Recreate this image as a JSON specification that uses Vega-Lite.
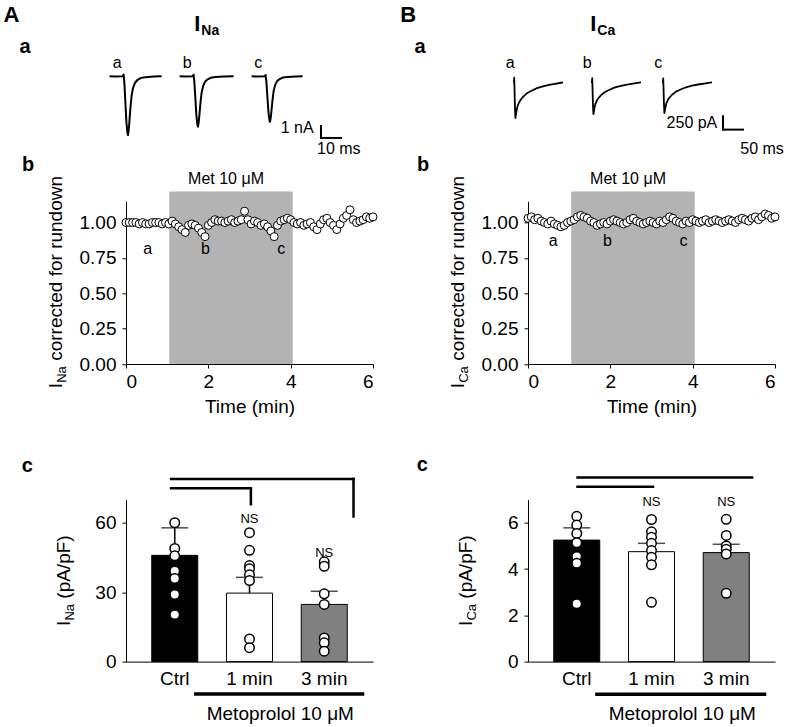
{
  "$schema": "https://vega.github.io/schema/vega-lite/v6.json",
  "padding": {"left": 3, "top": 3, "right": 5, "bottom": 5},
  "bounds": "flush",
  "columns": 2,
  "spacing": {"row": 135.3, "column": 155},
  "datasets": {
    "naTraces": [
      {"sweep":"a","t":0,"current":0},{"sweep":"a","t":3,"current":-0.02},{"sweep":"a","t":6.6,"current":0},{"sweep":"a","t":7.0,"current":0.15},{"sweep":"a","t":7.4,"current":-0.59},{"sweep":"a","t":7.9,"current":-2.2},{"sweep":"a","t":8.4,"current":-3.82},{"sweep":"a","t":8.9,"current":-4.7},{"sweep":"a","t":9.2,"current":-4.9},{"sweep":"a","t":9.6,"current":-4.41},{"sweep":"a","t":10.0,"current":-3.53},{"sweep":"a","t":10.5,"current":-2.45},{"sweep":"a","t":11.0,"current":-1.62},{"sweep":"a","t":11.7,"current":-0.98},{"sweep":"a","t":12.7,"current":-0.54},{"sweep":"a","t":14,"current":-0.29},{"sweep":"a","t":15.5,"current":-0.15},{"sweep":"a","t":18,"current":-0.07},{"sweep":"a","t":22,"current":-0.02},{"sweep":"a","t":26,"current":0},
      {"sweep":"b","t":35,"current":0},{"sweep":"b","t":38,"current":-0.02},{"sweep":"b","t":41.6,"current":0},{"sweep":"b","t":42.0,"current":0.13},{"sweep":"b","t":42.4,"current":-0.5},{"sweep":"b","t":42.9,"current":-1.89},{"sweep":"b","t":43.4,"current":-3.28},{"sweep":"b","t":43.9,"current":-4.03},{"sweep":"b","t":44.2,"current":-4.2},{"sweep":"b","t":44.6,"current":-3.78},{"sweep":"b","t":45.0,"current":-3.02},{"sweep":"b","t":45.5,"current":-2.1},{"sweep":"b","t":46.0,"current":-1.39},{"sweep":"b","t":46.7,"current":-0.84},{"sweep":"b","t":47.7,"current":-0.46},{"sweep":"b","t":49,"current":-0.25},{"sweep":"b","t":50.5,"current":-0.13},{"sweep":"b","t":53,"current":-0.06},{"sweep":"b","t":57,"current":-0.02},{"sweep":"b","t":62,"current":0},
      {"sweep":"c","t":71,"current":0},{"sweep":"c","t":74,"current":-0.02},{"sweep":"c","t":77.6,"current":0},{"sweep":"c","t":78.0,"current":0.11},{"sweep":"c","t":78.4,"current":-0.46},{"sweep":"c","t":78.9,"current":-1.71},{"sweep":"c","t":79.4,"current":-2.96},{"sweep":"c","t":79.9,"current":-3.65},{"sweep":"c","t":80.2,"current":-3.8},{"sweep":"c","t":80.6,"current":-3.42},{"sweep":"c","t":81.0,"current":-2.74},{"sweep":"c","t":81.5,"current":-1.9},{"sweep":"c","t":82.0,"current":-1.25},{"sweep":"c","t":82.7,"current":-0.76},{"sweep":"c","t":83.7,"current":-0.42},{"sweep":"c","t":85,"current":-0.23},{"sweep":"c","t":86.5,"current":-0.11},{"sweep":"c","t":89,"current":-0.06},{"sweep":"c","t":93,"current":-0.02},{"sweep":"c","t":96.5,"current":0}
    ],
    "caTraces": [
      {"sweep":"a","t":0,"current":0},{"sweep":"a","t":2.5,"current":0},{"sweep":"a","t":3,"current":81},{"sweep":"a","t":3.5,"current":-41},{"sweep":"a","t":5,"current":-508},{"sweep":"a","t":6,"current":-677},{"sweep":"a","t":8,"current":-575},{"sweep":"a","t":11,"current":-460},{"sweep":"a","t":15,"current":-386},{"sweep":"a","t":19,"current":-339},{"sweep":"a","t":25,"current":-278},{"sweep":"a","t":35,"current":-210},{"sweep":"a","t":45,"current":-169},{"sweep":"a","t":60,"current":-115},{"sweep":"a","t":75,"current":-81},{"sweep":"a","t":90,"current":-54},{"sweep":"a","t":105,"current":-34},{"sweep":"a","t":120,"current":-14},{"sweep":"a","t":125,"current":-7},
      {"sweep":"b","t":195,"current":0},{"sweep":"b","t":197.5,"current":0},{"sweep":"b","t":198,"current":72},{"sweep":"b","t":198.5,"current":-36},{"sweep":"b","t":200,"current":-452},{"sweep":"b","t":201,"current":-602},{"sweep":"b","t":203,"current":-512},{"sweep":"b","t":206,"current":-409},{"sweep":"b","t":210,"current":-343},{"sweep":"b","t":214,"current":-301},{"sweep":"b","t":220,"current":-247},{"sweep":"b","t":230,"current":-187},{"sweep":"b","t":240,"current":-151},{"sweep":"b","t":255,"current":-102},{"sweep":"b","t":270,"current":-72},{"sweep":"b","t":285,"current":-48},{"sweep":"b","t":300,"current":-30},{"sweep":"b","t":315,"current":-12},{"sweep":"b","t":320,"current":-6},
      {"sweep":"c","t":372.5,"current":0},{"sweep":"c","t":375,"current":0},{"sweep":"c","t":375.5,"current":70},{"sweep":"c","t":376,"current":-35},{"sweep":"c","t":377.5,"current":-437},{"sweep":"c","t":378.5,"current":-583},{"sweep":"c","t":380.5,"current":-496},{"sweep":"c","t":383.5,"current":-396},{"sweep":"c","t":387.5,"current":-332},{"sweep":"c","t":391.5,"current":-292},{"sweep":"c","t":397.5,"current":-239},{"sweep":"c","t":407.5,"current":-181},{"sweep":"c","t":417.5,"current":-146},{"sweep":"c","t":432.5,"current":-99},{"sweep":"c","t":447.5,"current":-70},{"sweep":"c","t":462.5,"current":-47},{"sweep":"c","t":477.5,"current":-29},{"sweep":"c","t":492.5,"current":-12},{"sweep":"c","t":497.5,"current":-6}
    ],
    "naTime": [
      {"time":0.00,"ratio":1.00},{"time":0.08,"ratio":1.00},{"time":0.16,"ratio":1.00},{"time":0.24,"ratio":1.00},{"time":0.32,"ratio":0.99},{"time":0.40,"ratio":1.00},{"time":0.48,"ratio":0.99},{"time":0.56,"ratio":0.99},{"time":0.64,"ratio":1.00},{"time":0.72,"ratio":1.00},{"time":0.80,"ratio":1.00},{"time":0.88,"ratio":0.99},{"time":0.96,"ratio":1.00},{"time":1.04,"ratio":0.99},{"time":1.12,"ratio":1.01},{"time":1.20,"ratio":0.99},{"time":1.28,"ratio":0.97},{"time":1.36,"ratio":0.95},{"time":1.44,"ratio":0.93},{"time":1.52,"ratio":0.98},{"time":1.60,"ratio":0.99},{"time":1.68,"ratio":0.98},{"time":1.76,"ratio":0.96},{"time":1.84,"ratio":0.93},{"time":1.92,"ratio":0.90},{"time":2.00,"ratio":0.98},{"time":2.08,"ratio":1.00},{"time":2.16,"ratio":1.02},{"time":2.24,"ratio":1.01},{"time":2.32,"ratio":1.01},{"time":2.40,"ratio":1.00},{"time":2.48,"ratio":1.01},{"time":2.56,"ratio":1.02},{"time":2.64,"ratio":1.00},{"time":2.72,"ratio":1.01},{"time":2.80,"ratio":1.02},{"time":2.88,"ratio":1.08},{"time":2.96,"ratio":1.02},{"time":3.04,"ratio":0.99},{"time":3.12,"ratio":1.01},{"time":3.20,"ratio":1.00},{"time":3.28,"ratio":0.98},{"time":3.36,"ratio":0.99},{"time":3.44,"ratio":0.97},{"time":3.52,"ratio":0.94},{"time":3.60,"ratio":0.90},{"time":3.68,"ratio":0.98},{"time":3.76,"ratio":1.01},{"time":3.84,"ratio":1.02},{"time":3.92,"ratio":1.03},{"time":4.00,"ratio":1.02},{"time":4.08,"ratio":1.00},{"time":4.16,"ratio":0.99},{"time":4.24,"ratio":1.00},{"time":4.32,"ratio":0.98},{"time":4.40,"ratio":0.99},{"time":4.48,"ratio":1.00},{"time":4.56,"ratio":0.97},{"time":4.64,"ratio":0.95},{"time":4.72,"ratio":0.99},{"time":4.80,"ratio":1.02},{"time":4.88,"ratio":1.03},{"time":4.96,"ratio":1.00},{"time":5.04,"ratio":0.98},{"time":5.12,"ratio":0.95},{"time":5.20,"ratio":0.99},{"time":5.28,"ratio":1.03},{"time":5.36,"ratio":1.05},{"time":5.44,"ratio":1.09},{"time":5.52,"ratio":1.02},{"time":5.60,"ratio":1.00},{"time":5.68,"ratio":1.01},{"time":5.76,"ratio":1.02},{"time":5.84,"ratio":1.04},{"time":5.92,"ratio":1.03},{"time":6.00,"ratio":1.04}
    ],
    "caTime": [
      {"time":0.00,"ratio":1.03},{"time":0.08,"ratio":1.04},{"time":0.16,"ratio":1.02},{"time":0.24,"ratio":1.03},{"time":0.32,"ratio":1.01},{"time":0.40,"ratio":1.00},{"time":0.48,"ratio":0.99},{"time":0.56,"ratio":1.01},{"time":0.64,"ratio":0.99},{"time":0.72,"ratio":0.98},{"time":0.80,"ratio":0.97},{"time":0.88,"ratio":0.98},{"time":0.96,"ratio":1.00},{"time":1.04,"ratio":1.01},{"time":1.12,"ratio":1.02},{"time":1.20,"ratio":1.04},{"time":1.28,"ratio":1.05},{"time":1.36,"ratio":1.04},{"time":1.44,"ratio":1.03},{"time":1.52,"ratio":1.01},{"time":1.60,"ratio":1.00},{"time":1.68,"ratio":0.98},{"time":1.76,"ratio":0.99},{"time":1.84,"ratio":1.00},{"time":1.92,"ratio":0.99},{"time":2.00,"ratio":1.01},{"time":2.08,"ratio":1.02},{"time":2.16,"ratio":1.01},{"time":2.24,"ratio":1.00},{"time":2.32,"ratio":0.99},{"time":2.40,"ratio":1.00},{"time":2.48,"ratio":1.02},{"time":2.56,"ratio":1.03},{"time":2.64,"ratio":1.01},{"time":2.72,"ratio":1.00},{"time":2.80,"ratio":0.99},{"time":2.88,"ratio":1.00},{"time":2.96,"ratio":1.01},{"time":3.04,"ratio":1.00},{"time":3.12,"ratio":0.99},{"time":3.20,"ratio":1.01},{"time":3.28,"ratio":1.00},{"time":3.36,"ratio":1.02},{"time":3.44,"ratio":1.04},{"time":3.52,"ratio":1.03},{"time":3.60,"ratio":1.01},{"time":3.68,"ratio":1.00},{"time":3.76,"ratio":0.99},{"time":3.84,"ratio":1.01},{"time":3.92,"ratio":1.00},{"time":4.00,"ratio":1.02},{"time":4.08,"ratio":1.01},{"time":4.16,"ratio":1.00},{"time":4.24,"ratio":1.01},{"time":4.32,"ratio":1.02},{"time":4.40,"ratio":1.00},{"time":4.48,"ratio":1.01},{"time":4.56,"ratio":1.02},{"time":4.64,"ratio":1.01},{"time":4.72,"ratio":1.00},{"time":4.80,"ratio":1.01},{"time":4.88,"ratio":1.02},{"time":4.96,"ratio":1.01},{"time":5.04,"ratio":1.00},{"time":5.12,"ratio":1.02},{"time":5.20,"ratio":1.03},{"time":5.28,"ratio":1.02},{"time":5.36,"ratio":1.01},{"time":5.44,"ratio":1.03},{"time":5.52,"ratio":1.04},{"time":5.60,"ratio":1.02},{"time":5.68,"ratio":1.04},{"time":5.76,"ratio":1.06},{"time":5.84,"ratio":1.05},{"time":5.92,"ratio":1.03},{"time":6.00,"ratio":1.04}
    ],
    "naLabels": [{"label":"a","time":0.525},{"label":"b","time":1.93},{"label":"c","time":3.77}],
    "caLabels": [{"label":"a","time":0.61},{"label":"b","time":1.93},{"label":"c","time":3.78}],
    "naBars": [{"cond":"Ctrl","mean":45.9,"upper":57.8},{"cond":"1 min","mean":29.6,"upper":36.4},{"cond":"3 min","mean":24.7,"upper":30.4}],
    "naPoints": [
      {"cond":"Ctrl","value":60.0},{"cond":"Ctrl","value":48.9},{"cond":"Ctrl","value":45.7},{"cond":"Ctrl","value":39.1},{"cond":"Ctrl","value":35.9},{"cond":"Ctrl","value":29.0},{"cond":"Ctrl","value":20.3},
      {"cond":"1 min","value":55.7},{"cond":"1 min","value":48.1},{"cond":"1 min","value":41.5},{"cond":"1 min","value":40.1},{"cond":"1 min","value":37.5},{"cond":"1 min","value":35.0},{"cond":"1 min","value":9.8},{"cond":"1 min","value":6.0},
      {"cond":"3 min","value":43.1},{"cond":"3 min","value":41.2},{"cond":"3 min","value":29.3},{"cond":"3 min","value":24.7},{"cond":"3 min","value":10.2},{"cond":"3 min","value":8.1},{"cond":"3 min","value":4.5}
    ],
    "caBars": [{"cond":"Ctrl","mean":5.25,"upper":5.78},{"cond":"1 min","mean":4.75,"upper":5.11},{"cond":"3 min","mean":4.71,"upper":5.07}],
    "caPoints": [
      {"cond":"Ctrl","value":6.28},{"cond":"Ctrl","value":5.9},{"cond":"Ctrl","value":5.54},{"cond":"Ctrl","value":5.14},{"cond":"Ctrl","value":4.54},{"cond":"Ctrl","value":4.25},{"cond":"Ctrl","value":2.5},
      {"cond":"1 min","value":6.14},{"cond":"1 min","value":5.61},{"cond":"1 min","value":5.37},{"cond":"1 min","value":5.11},{"cond":"1 min","value":4.8},{"cond":"1 min","value":4.51},{"cond":"1 min","value":4.18},{"cond":"1 min","value":2.56},
      {"cond":"3 min","value":6.15},{"cond":"3 min","value":5.45},{"cond":"3 min","value":5.0},{"cond":"3 min","value":4.85},{"cond":"3 min","value":4.65},{"cond":"3 min","value":2.95}
    ]
  },
  "concat": [
    {
      "width": 247, "height": 20,
      "layer": [
        {"data": {"name": "naTraces"}, "mark": {"type": "line", "color": "black", "strokeWidth": 2, "strokeJoin": "round"},
         "encoding": {"x": {"field": "t", "type": "quantitative", "scale": {"domain": [8.2, 131.7], "nice": false, "zero": false}, "axis": null},
                      "y": {"field": "current", "type": "quantitative", "scale": {"domain": [0.858, 2.525], "nice": false, "zero": false}, "axis": null},
                      "detail": {"field": "sweep", "type": "nominal"}}},
        {"data": {"values": [{}]}, "mark": {"type": "rule", "color": "black", "strokeWidth": 2, "strokeCap": "square"},
         "encoding": {"x": {"datum": 105.7, "axis": null}, "y": {"datum": -5.14, "axis": null}, "y2": {"datum": -4.14}}},
        {"data": {"values": [{}]}, "mark": {"type": "rule", "color": "black", "strokeWidth": 2, "strokeCap": "square"},
         "encoding": {"x": {"datum": 105.7, "axis": null}, "x2": {"datum": 115.7}, "y": {"datum": -5.14, "axis": null}}},
        {"data": {"values": [{}]}, "mark": {"type": "text", "text": "1 nA", "fontSize": 16, "align": "right", "baseline": "middle"},
         "encoding": {"x": {"datum": 102, "axis": null}, "y": {"datum": -4.3, "axis": null}}},
        {"data": {"values": [{}]}, "mark": {"type": "text", "text": "10 ms", "fontSize": 16, "align": "left", "baseline": "middle"},
         "encoding": {"x": {"datum": 103.7, "axis": null}, "y": {"datum": -6.03, "axis": null}}},
        {"data": {"values": [{"sweep": "a", "t": 3.85}, {"sweep": "b", "t": 38.85}, {"sweep": "c", "t": 74.35}]}, "mark": {"type": "text", "fontSize": 16, "baseline": "middle"},
         "encoding": {"x": {"field": "t", "type": "quantitative", "axis": null}, "y": {"datum": 1.083, "axis": null}, "text": {"field": "sweep"}}},
        {"data": {"values": [{}]}, "mark": {"type": "text", "text": "A", "fontSize": 22, "fontWeight": "bold", "align": "left", "baseline": "alphabetic"},
         "encoding": {"x": {"datum": -53.0, "axis": null}, "y": {"datum": 4.525, "axis": null}}},
        {"data": {"values": [{}]}, "mark": {"type": "text", "text": "I", "fontSize": 22, "fontWeight": "bold", "align": "left", "baseline": "alphabetic"},
         "encoding": {"x": {"datum": 42.35, "axis": null}, "y": {"datum": 3.75, "axis": null}}},
        {"data": {"values": [{}]}, "mark": {"type": "text", "text": "Na", "fontSize": 14, "fontWeight": "bold", "align": "left", "baseline": "alphabetic"},
         "encoding": {"x": {"datum": 45.85, "axis": null}, "y": {"datum": 3.475, "axis": null}}},
        {"data": {"values": [{}]}, "mark": {"type": "text", "text": "a", "fontSize": 20, "fontWeight": "bold", "align": "left", "baseline": "alphabetic"},
         "encoding": {"x": {"datum": -45.0, "axis": null}, "y": {"datum": 1.917, "axis": null}}}
      ]
    },
    {
      "width": 247, "height": 20,
      "layer": [
        {"data": {"name": "caTraces"}, "mark": {"type": "line", "color": "black", "strokeWidth": 1.8, "strokeJoin": "round"},
         "encoding": {"x": {"field": "t", "type": "quantitative", "scale": {"domain": [37.5, 655], "nice": false, "zero": false}, "axis": null},
                      "y": {"field": "current", "type": "quantitative", "scale": {"domain": [300.8, 676.7], "nice": false, "zero": false}, "axis": null},
                      "detail": {"field": "sweep", "type": "nominal"}}},
        {"data": {"values": [{}]}, "mark": {"type": "rule", "color": "black", "strokeWidth": 2, "strokeCap": "square"},
         "encoding": {"x": {"datum": 525, "axis": null}, "y": {"datum": -895, "axis": null}, "y2": {"datum": -645}}},
        {"data": {"values": [{}]}, "mark": {"type": "rule", "color": "black", "strokeWidth": 2, "strokeCap": "square"},
         "encoding": {"x": {"datum": 525, "axis": null}, "x2": {"datum": 575}, "y": {"datum": -895, "axis": null}}},
        {"data": {"values": [{}]}, "mark": {"type": "text", "text": "250 pA", "fontSize": 16, "align": "right", "baseline": "middle"},
         "encoding": {"x": {"datum": 510.75, "axis": null}, "y": {"datum": -770.7, "axis": null}}},
        {"data": {"values": [{}]}, "mark": {"type": "text", "text": "50 ms", "fontSize": 16, "align": "left", "baseline": "middle"},
         "encoding": {"x": {"datum": 568.25, "axis": null}, "y": {"datum": -1265, "axis": null}}},
        {"data": {"values": [{"sweep": "a", "t": -6.75}, {"sweep": "b", "t": 185.75}, {"sweep": "c", "t": 363.25}]}, "mark": {"type": "text", "fontSize": 16, "baseline": "middle"},
         "encoding": {"x": {"field": "t", "type": "quantitative", "axis": null}, "y": {"datum": 351.5, "axis": null}, "text": {"field": "sweep"}}},
        {"data": {"values": [{}]}, "mark": {"type": "text", "text": "B", "fontSize": 22, "fontWeight": "bold", "align": "left", "baseline": "alphabetic"},
         "encoding": {"x": {"datum": -281.75, "axis": null}, "y": {"datum": 1127.8, "axis": null}}},
        {"data": {"values": [{}]}, "mark": {"type": "text", "text": "I", "fontSize": 22, "fontWeight": "bold", "align": "left", "baseline": "alphabetic"},
         "encoding": {"x": {"datum": 193.25, "axis": null}, "y": {"datum": 953, "axis": null}}},
        {"data": {"values": [{}]}, "mark": {"type": "text", "text": "Ca", "fontSize": 14, "fontWeight": "bold", "align": "left", "baseline": "alphabetic"},
         "encoding": {"x": {"datum": 210.75, "axis": null}, "y": {"datum": 891, "axis": null}}},
        {"data": {"values": [{}]}, "mark": {"type": "text", "text": "a", "fontSize": 20, "fontWeight": "bold", "align": "left", "baseline": "alphabetic"},
         "encoding": {"x": {"datum": -246, "axis": null}, "y": {"datum": 539.5, "axis": null}}}
      ]
    },
    {
      "width": 247, "height": 162.7,
      "layer": [
        {"data": {"values": [{"time": 1.05, "time_end": 4.05}]}, "mark": {"type": "rect", "color": "#b3b3b3"},
         "encoding": {"x": {"field": "time", "type": "quantitative"}, "x2": {"field": "time_end"}, "y": {"datum": 0}, "y2": {"datum": 1.22}}},
        {"data": {"values": [{}]}, "mark": {"type": "text", "text": "Met 10 μM", "fontSize": 16, "baseline": "middle"},
         "encoding": {"x": {"datum": 2.43}, "y": {"datum": 1.305}}},
        {"data": {"name": "naTime"}, "mark": {"type": "point", "shape": "circle", "filled": true, "fill": "white", "stroke": "black", "strokeWidth": 1, "size": 64, "opacity": 1},
         "encoding": {
           "x": {"field": "time", "type": "quantitative", "scale": {"domain": [0, 6], "nice": false, "zero": false}, "axis": {"title": "Time (min)", "values": [0, 2, 4, 6], "labelPadding": 4, "titlePadding": 6}},
           "y": {"field": "ratio", "type": "quantitative", "scale": {"domain": [0, 1.15], "nice": false}, "axis": {"title": null, "values": [0, 0.25, 0.5, 0.75, 1], "format": ".2f", "labelPadding": 6}}}},
        {"data": {"name": "naLabels"}, "mark": {"type": "text", "fontSize": 16, "baseline": "middle"},
         "encoding": {"x": {"field": "time", "type": "quantitative"}, "y": {"datum": 0.81}, "text": {"field": "label"}}},
        {"data": {"values": [{}]}, "mark": {"type": "text", "text": "b", "fontSize": 20, "fontWeight": "bold", "align": "left", "baseline": "alphabetic"},
         "encoding": {"x": {"datum": -2.525}, "y": {"datum": 1.362}}},
        {"data": {"values": [{}]}, "mark": {"type": "text", "text": "I", "fontSize": 19, "angle": 270, "align": "left", "baseline": "middle"},
         "encoding": {"x": {"datum": -1.693}, "y": {"datum": -0.1718}}},
        {"data": {"values": [{}]}, "mark": {"type": "text", "text": "Na", "fontSize": 13, "angle": 270, "align": "left", "baseline": "middle"},
         "encoding": {"x": {"datum": -1.548}, "y": {"datum": -0.1329}}},
        {"data": {"values": [{}]}, "mark": {"type": "text", "text": "corrected for rundown", "fontSize": 19, "angle": 270, "align": "left", "baseline": "middle"},
         "encoding": {"x": {"datum": -1.693}, "y": {"datum": 0.0226}}}
      ]
    },
    {
      "width": 247, "height": 162.7,
      "layer": [
        {"data": {"values": [{"time": 1.05, "time_end": 4.05}]}, "mark": {"type": "rect", "color": "#b3b3b3"},
         "encoding": {"x": {"field": "time", "type": "quantitative"}, "x2": {"field": "time_end"}, "y": {"datum": 0}, "y2": {"datum": 1.22}}},
        {"data": {"values": [{}]}, "mark": {"type": "text", "text": "Met 10 μM", "fontSize": 16, "baseline": "middle"},
         "encoding": {"x": {"datum": 2.43}, "y": {"datum": 1.305}}},
        {"data": {"name": "caTime"}, "mark": {"type": "point", "shape": "circle", "filled": true, "fill": "white", "stroke": "black", "strokeWidth": 1, "size": 64, "opacity": 1},
         "encoding": {
           "x": {"field": "time", "type": "quantitative", "scale": {"domain": [0, 6], "nice": false, "zero": false}, "axis": {"title": "Time (min)", "values": [0, 2, 4, 6], "labelPadding": 4, "titlePadding": 6}},
           "y": {"field": "ratio", "type": "quantitative", "scale": {"domain": [0, 1.15], "nice": false}, "axis": {"title": null, "values": [0, 0.25, 0.5, 0.75, 1], "format": ".2f", "labelPadding": 6}}}},
        {"data": {"name": "caLabels"}, "mark": {"type": "text", "fontSize": 16, "baseline": "middle"},
         "encoding": {"x": {"field": "time", "type": "quantitative"}, "y": {"datum": 0.866}, "text": {"field": "label"}}},
        {"data": {"values": [{}]}, "mark": {"type": "text", "text": "b", "fontSize": 20, "fontWeight": "bold", "align": "left", "baseline": "alphabetic"},
         "encoding": {"x": {"datum": -2.696}, "y": {"datum": 1.362}}},
        {"data": {"values": [{}]}, "mark": {"type": "text", "text": "I", "fontSize": 19, "angle": 270, "align": "left", "baseline": "middle"},
         "encoding": {"x": {"datum": -1.693}, "y": {"datum": -0.1718}}},
        {"data": {"values": [{}]}, "mark": {"type": "text", "text": "Ca", "fontSize": 13, "angle": 270, "align": "left", "baseline": "middle"},
         "encoding": {"x": {"datum": -1.548}, "y": {"datum": -0.1329}}},
        {"data": {"values": [{}]}, "mark": {"type": "text", "text": "corrected for rundown", "fontSize": 19, "angle": 270, "align": "left", "baseline": "middle"},
         "encoding": {"x": {"datum": -1.693}, "y": {"datum": 0.0226}}}
      ]
    },
    {
      "width": 247, "height": 162,
      "title": {"text": "c", "dx": -104.2, "offset": -15, "baseline": "alphabetic", "fontSize": 20, "fontWeight": "bold", "anchor": "start", "frame": "group"},
      "layer": [
        {"data": {"name": "naBars"}, "mark": {"type": "bar", "stroke": "black", "strokeWidth": 1},
         "encoding": {
           "x": {"field": "cond", "type": "nominal", "scale": {"domain": ["Ctrl", "1 min", "3 min"], "paddingInner": 0.3846, "paddingOuter": 0.3445}, "axis": {"title": null, "ticks": false, "labelAngle": 0, "labelPadding": 8}},
           "y": {"field": "mean", "type": "quantitative", "scale": {"domain": [0, 70], "nice": false}, "axis": {"title": null, "values": [0, 30, 60], "labelPadding": 6}},
           "fill": {"field": "cond", "type": "nominal", "scale": {"domain": ["Ctrl", "1 min", "3 min"], "range": ["black", "white", "#808080"]}, "legend": null}}},
        {"data": {"name": "naBars"}, "mark": {"type": "rule", "color": "black", "strokeWidth": 1.5},
         "encoding": {"x": {"field": "cond", "type": "nominal"}, "y": {"field": "mean", "type": "quantitative"}, "y2": {"field": "upper"}}},
        {"data": {"name": "naBars"}, "mark": {"type": "tick", "color": "black", "thickness": 1.5, "size": 27},
         "encoding": {"x": {"field": "cond", "type": "nominal"}, "y": {"field": "upper", "type": "quantitative"}}},
        {"data": {"name": "naPoints"}, "mark": {"type": "point", "shape": "circle", "filled": true, "fill": "white", "stroke": "black", "strokeWidth": 1.5, "size": 90, "opacity": 1},
         "encoding": {"x": {"field": "cond", "type": "nominal"}, "y": {"field": "value", "type": "quantitative"}}},
        {"data": {"values": [{}]}, "mark": {"type": "text", "text": "NS", "fontSize": 13, "baseline": "middle"},
         "encoding": {"x": {"datum": "1 min", "type": "nominal"}, "y": {"datum": 61.7, "type": "quantitative"}}},
        {"data": {"values": [{}]}, "mark": {"type": "text", "text": "NS", "fontSize": 13, "baseline": "middle"},
         "encoding": {"x": {"datum": "3 min", "type": "nominal"}, "y": {"datum": 46.8, "type": "quantitative"}}},
        {"data": {"values": [{}]}, "mark": {"type": "rule", "color": "black", "strokeWidth": 2.5, "strokeCap": "square"},
         "encoding": {"x": {"datum": "Ctrl", "type": "nominal", "bandPosition": 0.42}, "x2": {"datum": "3 min", "bandPosition": 1.136}, "y": {"datum": 78.95, "type": "quantitative"}}},
        {"data": {"values": [{}]}, "mark": {"type": "rule", "color": "black", "strokeWidth": 2.5, "strokeCap": "square"},
         "encoding": {"x": {"datum": "3 min", "type": "nominal", "bandPosition": 1.136}, "y": {"datum": 78.95, "type": "quantitative"}, "y2": {"datum": 62.7}}},
        {"data": {"values": [{}]}, "mark": {"type": "rule", "color": "black", "strokeWidth": 2.5, "strokeCap": "square"},
         "encoding": {"x": {"datum": "Ctrl", "type": "nominal", "bandPosition": 0.42}, "x2": {"datum": "1 min", "bandPosition": 0.53}, "y": {"datum": 74.9, "type": "quantitative"}}},
        {"data": {"values": [{}]}, "mark": {"type": "rule", "color": "black", "strokeWidth": 2.5, "strokeCap": "square"},
         "encoding": {"x": {"datum": "1 min", "type": "nominal", "bandPosition": 0.53}, "y": {"datum": 74.9, "type": "quantitative"}, "y2": {"datum": 68.0}}},
        {"data": {"values": [{}]}, "mark": {"type": "rule", "color": "black", "strokeWidth": 3.5},
         "encoding": {"x": {"datum": "Ctrl", "type": "nominal", "bandPosition": 0.92}, "x2": {"datum": "3 min", "bandPosition": 1.37}, "y": {"datum": -13.96, "type": "quantitative"}}},
        {"data": {"values": [{}]}, "mark": {"type": "text", "text": "Metoprolol 10 μM", "fontSize": 19, "baseline": "middle"},
         "encoding": {"x": {"datum": "1 min", "type": "nominal", "bandPosition": 1.17}, "y": {"datum": -22.47, "type": "quantitative"}}},
        {"data": {"values": [{}]}, "mark": {"type": "text", "text": "I", "fontSize": 19, "angle": 270, "align": "left", "baseline": "middle"},
         "encoding": {"x": {"datum": "Ctrl", "type": "nominal", "bandPosition": -1.908}, "y": {"datum": 15.43, "type": "quantitative"}}},
        {"data": {"values": [{}]}, "mark": {"type": "text", "text": "Na", "fontSize": 13, "angle": 270, "align": "left", "baseline": "middle"},
         "encoding": {"x": {"datum": "Ctrl", "type": "nominal", "bandPosition": -1.777}, "y": {"datum": 17.72, "type": "quantitative"}}},
        {"data": {"values": [{}]}, "mark": {"type": "text", "text": "(pA/pF)", "fontSize": 19, "angle": 270, "align": "left", "baseline": "middle"},
         "encoding": {"x": {"datum": "Ctrl", "type": "nominal", "bandPosition": -1.908}, "y": {"datum": 27.18, "type": "quantitative"}}}
      ]
    },
    {
      "width": 247, "height": 162,
      "title": {"text": "c", "dx": -111.2, "offset": -15, "baseline": "alphabetic", "fontSize": 20, "fontWeight": "bold", "anchor": "start", "frame": "group"},
      "layer": [
        {"data": {"name": "caBars"}, "mark": {"type": "bar", "stroke": "black", "strokeWidth": 1},
         "encoding": {
           "x": {"field": "cond", "type": "nominal", "scale": {"domain": ["Ctrl", "1 min", "3 min"], "paddingInner": 0.3846, "paddingOuter": 0.3445}, "axis": {"title": null, "ticks": false, "labelAngle": 0, "labelPadding": 8}},
           "y": {"field": "mean", "type": "quantitative", "scale": {"domain": [0, 7], "nice": false}, "axis": {"title": null, "values": [0, 2, 4, 6], "labelPadding": 6}},
           "fill": {"field": "cond", "type": "nominal", "scale": {"domain": ["Ctrl", "1 min", "3 min"], "range": ["black", "white", "#808080"]}, "legend": null}}},
        {"data": {"name": "caBars"}, "mark": {"type": "rule", "color": "black", "strokeWidth": 1.5},
         "encoding": {"x": {"field": "cond", "type": "nominal"}, "y": {"field": "mean", "type": "quantitative"}, "y2": {"field": "upper"}}},
        {"data": {"name": "caBars"}, "mark": {"type": "tick", "color": "black", "thickness": 1.5, "size": 27},
         "encoding": {"x": {"field": "cond", "type": "nominal"}, "y": {"field": "upper", "type": "quantitative"}}},
        {"data": {"name": "caPoints"}, "mark": {"type": "point", "shape": "circle", "filled": true, "fill": "white", "stroke": "black", "strokeWidth": 1.5, "size": 90, "opacity": 1},
         "encoding": {"x": {"field": "cond", "type": "nominal"}, "y": {"field": "value", "type": "quantitative"}}},
        {"data": {"values": [{}]}, "mark": {"type": "text", "text": "NS", "fontSize": 13, "baseline": "middle"},
         "encoding": {"x": {"datum": "1 min", "type": "nominal"}, "y": {"datum": 6.88, "type": "quantitative"}}},
        {"data": {"values": [{}]}, "mark": {"type": "text", "text": "NS", "fontSize": 13, "baseline": "middle"},
         "encoding": {"x": {"datum": "3 min", "type": "nominal"}, "y": {"datum": 6.88, "type": "quantitative"}}},
        {"data": {"values": [{}]}, "mark": {"type": "rule", "color": "black", "strokeWidth": 2.5},
         "encoding": {"x": {"datum": "Ctrl", "type": "nominal", "bandPosition": 0.49}, "x2": {"datum": "3 min", "bandPosition": 1.09}, "y": {"datum": 7.96, "type": "quantitative"}}},
        {"data": {"values": [{}]}, "mark": {"type": "rule", "color": "black", "strokeWidth": 2.5},
         "encoding": {"x": {"datum": "Ctrl", "type": "nominal", "bandPosition": 0.49}, "x2": {"datum": "1 min", "bandPosition": 0.56}, "y": {"datum": 7.56, "type": "quantitative"}}},
        {"data": {"values": [{}]}, "mark": {"type": "rule", "color": "black", "strokeWidth": 3.5},
         "encoding": {"x": {"datum": "Ctrl", "type": "nominal", "bandPosition": 0.9}, "x2": {"datum": "3 min", "bandPosition": 1.37}, "y": {"datum": -1.413, "type": "quantitative"}}},
        {"data": {"values": [{}]}, "mark": {"type": "text", "text": "Metoprolol 10 μM", "fontSize": 19, "baseline": "middle"},
         "encoding": {"x": {"datum": "1 min", "type": "nominal", "bandPosition": 1.17}, "y": {"datum": -2.247, "type": "quantitative"}}},
        {"data": {"values": [{}]}, "mark": {"type": "text", "text": "I", "fontSize": 19, "angle": 270, "align": "left", "baseline": "middle"},
         "encoding": {"x": {"datum": "Ctrl", "type": "nominal", "bandPosition": -1.908}, "y": {"datum": 1.543, "type": "quantitative"}}},
        {"data": {"values": [{}]}, "mark": {"type": "text", "text": "Ca", "fontSize": 13, "angle": 270, "align": "left", "baseline": "middle"},
         "encoding": {"x": {"datum": "Ctrl", "type": "nominal", "bandPosition": -1.777}, "y": {"datum": 1.772, "type": "quantitative"}}},
        {"data": {"values": [{}]}, "mark": {"type": "text", "text": "(pA/pF)", "fontSize": 19, "angle": 270, "align": "left", "baseline": "middle"},
         "encoding": {"x": {"datum": "Ctrl", "type": "nominal", "bandPosition": -1.908}, "y": {"datum": 2.718, "type": "quantitative"}}}
      ]
    }
  ],
  "config": {
    "font": "Liberation Sans",
    "view": {"stroke": null},
    "axis": {"domainColor": "black", "tickColor": "black", "labelColor": "black", "titleColor": "black", "labelFontSize": 19, "titleFontSize": 19, "titleFontWeight": "normal", "grid": false, "tickSize": 4, "labelFont": "Liberation Sans", "titleFont": "Liberation Sans"},
    "text": {"font": "Liberation Sans", "color": "black"},
    "title": {"font": "Liberation Sans", "color": "black"}
  }
}
